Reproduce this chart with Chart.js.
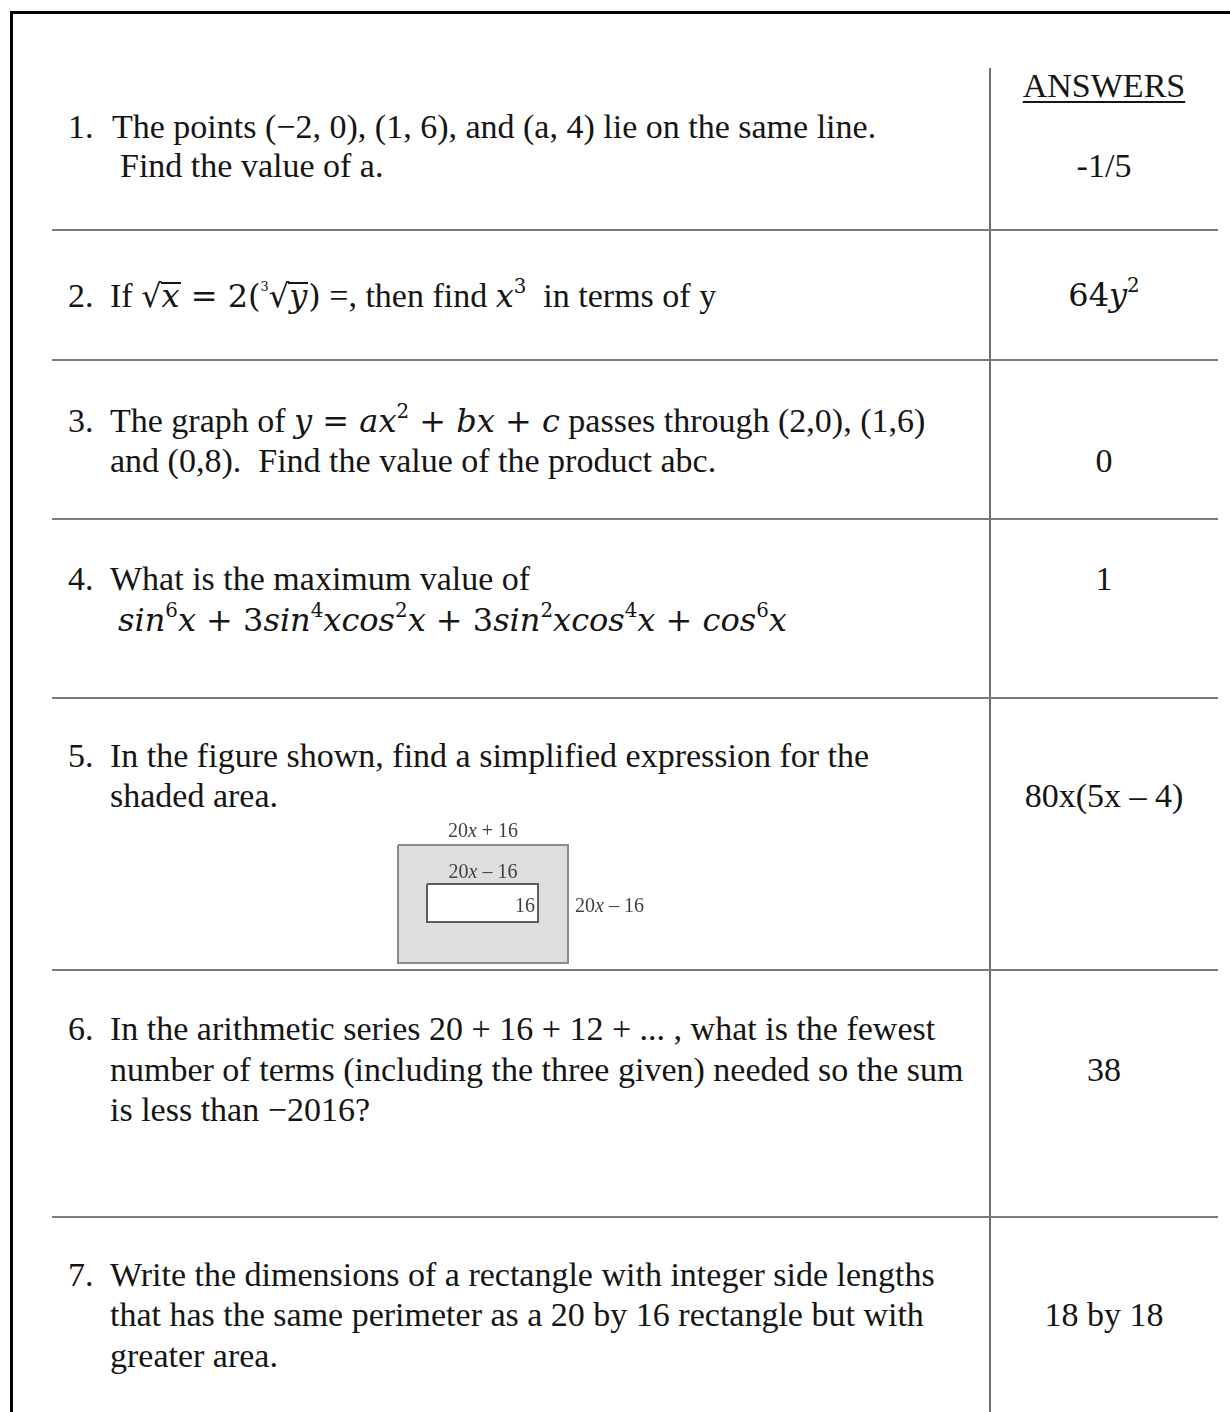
<!DOCTYPE html>
<html>
<head>
<meta charset="utf-8">
<script src="https://cdn.jsdelivr.net/npm/chart.js"></script>
<style>
  html, body { margin: 0; padding: 0; background: #fff; }
  body {
    width: 1230px; height: 1412px; position: relative; overflow: hidden;
    font-family: "Liberation Serif", "Times New Roman", serif; color: #151515;
  }
  .frame {
    position: absolute; left: 10px; top: 11px; width: 1260px; height: 1440px;
    border-left: 3px solid #000; border-top: 3px solid #000;
  }
  .rule { position: absolute; left: 52px; width: 1166px; border-top: 2px solid #7b7b7b; }
  .divider { position: absolute; left: 989px; top: 68px; height: 1344px; border-left: 2px solid #6f6f6f; }
  .line { position: absolute; font-size: 34px; line-height: 40px; white-space: nowrap; }
  .ans { left: 993px; width: 222px; text-align: center; }
  .head { text-decoration: underline; text-decoration-thickness: 2px; text-underline-offset: 4px; }
  .m { font-family: "DejaVu Serif", serif; font-style: italic; font-size: 32px; line-height: 0; }
  .mu { font-style: normal; }
  .m sup { font-style: normal; font-size: 0.62em; line-height: 0; vertical-align: 0.7em; }
  .ov { display: inline-block; line-height: 25px; border-top: 2px solid #151515; padding: 0 1px; }
  .rad { font-style: normal; margin-right: -1px; }
  .m sup.ix { font-size: 0.4em; vertical-align: 1.25em; margin-right: 0; }
  #figure { position: absolute; left: 380px; top: 815px; }
</style>
</head>
<body>
<div class="frame"></div>
<div class="divider"></div>
<div id="page"></div>
<canvas id="figure" width="290" height="160"></canvas>
<script>
const questionNumbers = ['1.', '2.', '3.', '4.', '5.', '6.', '7.'];

const questionLines = [
  ['The points (−2, 0), (1, 6), and (a, 4) lie on the same line.',
   'Find the value of a.'],
  ['If <span class="m"><span class="rad">√</span><span class="ov">x</span> <span class="mu">=</span> <span class="mu">2(</span><sup class="ix">3</sup><span class="rad">√</span><span class="ov">y</span><span class="mu">)</span></span> =, then find <span class="m">x<sup>3</sup></span>&nbsp; in terms of y'],
  ['The graph of <span class="m">y <span class="mu">=</span> ax<sup>2</sup> <span class="mu">+</span> bx <span class="mu">+</span> c</span> passes through (2,0), (1,6)',
   'and (0,8).&nbsp; Find the value of the product abc.'],
  ['What is the maximum value of',
   '<span class="m">sin<sup>6</sup>x <span class="mu">+</span> <span class="mu">3</span>sin<sup>4</sup>xcos<sup>2</sup>x <span class="mu">+</span> <span class="mu">3</span>sin<sup>2</sup>xcos<sup>4</sup>x <span class="mu">+</span> cos<sup>6</sup>x</span>'],
  ['In the figure shown, find a simplified expression for the',
   'shaded area.'],
  ['In the arithmetic series 20 + 16 + 12 + ... , what is the fewest',
   'number of terms (including the three given) needed so the sum',
   'is less than −2016?'],
  ['Write the dimensions of a rectangle with integer side lengths',
   'that has the same perimeter as a 20 by 16 rectangle but with',
   'greater area.']
];

const answerHeader = 'ANSWERS';
const answers = ['-1/5', '<span class="m"><span class="mu">64</span>y<sup>2</sup></span>', '0', '1', '80x(5x – 4)', '38', '18 by 18'];

// figure for question 5, in figure units
const figureLabels = ['20x + 16', '20x – 16', '16', '20x – 16'];
const outerWidth = 170;
const outerHeight = 118;
const innerLeft = 29;
const innerRight = 140;
const innerTop = 39;
const innerBottom = 77;

// page layout
const rowRules = [230, 360, 519, 698, 970, 1217];
const rowBaselines = [[139, 178], [308], [433, 473], [591, 632], [768, 808], [1041, 1082, 1122], [1287, 1327, 1368]];
const answerBaselines = [178, 307, 473, 591, 808, 1082, 1327];
const lineIndent = [[112, 120], [110], [110, 110], [110, 118], [110, 110], [110, 110, 110], [110, 110, 110]];

const page = document.getElementById('page');
function addLine(html, left, baseline, cls) {
  const d = document.createElement('div');
  d.className = 'line' + (cls ? ' ' + cls : '');
  if (left !== null) d.style.left = left + 'px';
  d.style.top = (baseline - 32) + 'px';
  d.innerHTML = html;
  page.appendChild(d);
}

rowRules.forEach(y => {
  const r = document.createElement('div');
  r.className = 'rule';
  r.style.top = (y - 1) + 'px';
  page.appendChild(r);
});

addLine(answerHeader, null, 98, 'ans head');
questionNumbers.forEach((n, i) => {
  addLine(n, 68, rowBaselines[i][0]);
  questionLines[i].forEach((t, j) => addLine(t, lineIndent[i][j], rowBaselines[i][j]));
  addLine(answers[i], null, answerBaselines[i], 'ans');
});

// rectangle outlines as closed paths
const outerBox = [
  { x: 0, y: 0 }, { x: outerWidth, y: 0 }, { x: outerWidth, y: outerHeight },
  { x: 0, y: outerHeight }, { x: 0, y: 0 }
];
const innerBox = [
  { x: innerLeft, y: innerTop }, { x: innerRight, y: innerTop }, { x: innerRight, y: innerBottom },
  { x: innerLeft, y: innerBottom }, { x: innerLeft, y: innerTop }
];
const labelAnchors = [
  { x: outerWidth / 2, y: -8, align: 'center' },
  { x: outerWidth / 2, y: 33, align: 'center' },
  { x: innerRight - 3, y: 67, align: 'right' },
  { x: outerWidth + 7, y: 67, align: 'left' }
];

const figureText = {
  id: 'figureText',
  afterDatasetsDraw(chart) {
    const ctx = chart.ctx;
    const xs = chart.scales.x, ys = chart.scales.y;
    ctx.save();
    ctx.fillStyle = '#3f3f3f';
    ctx.textBaseline = 'alphabetic';
    figureLabels.forEach((label, i) => {
      const a = labelAnchors[i];
      // split so the x can be set in italics
      const parts = label.split('x');
      const segs = [];
      parts.forEach((p, k) => {
        if (p) segs.push({ t: p, f: '20px "Liberation Serif"' });
        if (k < parts.length - 1) segs.push({ t: 'x', f: 'italic 20px "Liberation Serif"' });
      });
      let w = 0;
      segs.forEach(s => { ctx.font = s.f; s.w = ctx.measureText(s.t).width; w += s.w; });
      let px = xs.getPixelForValue(a.x);
      if (a.align === 'center') px -= w / 2;
      if (a.align === 'right') px -= w;
      const py = ys.getPixelForValue(a.y);
      ctx.textAlign = 'left';
      segs.forEach(s => { ctx.font = s.f; ctx.fillText(s.t, px, py); px += s.w; });
    });
    ctx.restore();
  }
};

new Chart(document.getElementById('figure'), {
  type: 'line',
  data: {
    datasets: [
      {
        data: innerBox,
        borderColor: '#5c5c5c',
        borderWidth: 2,
        backgroundColor: '#ffffff',
        fill: 'shape',
        pointRadius: 0,
        tension: 0,
        order: 1
      },
      {
        data: outerBox,
        borderColor: '#8a8a8a',
        borderWidth: 2,
        backgroundColor: '#dedede',
        fill: 'shape',
        pointRadius: 0,
        tension: 0,
        order: 2
      }
    ]
  },
  options: {
    responsive: false,
    animation: false,
    layout: { padding: 0 },
    plugins: { legend: { display: false }, tooltip: { enabled: false } },
    scales: {
      x: { type: 'linear', display: false, min: -18, max: 272 },
      y: { type: 'linear', display: false, min: -30, max: 130, reverse: true }
    }
  },
  plugins: [figureText]
});
</script>
</body>
</html>
